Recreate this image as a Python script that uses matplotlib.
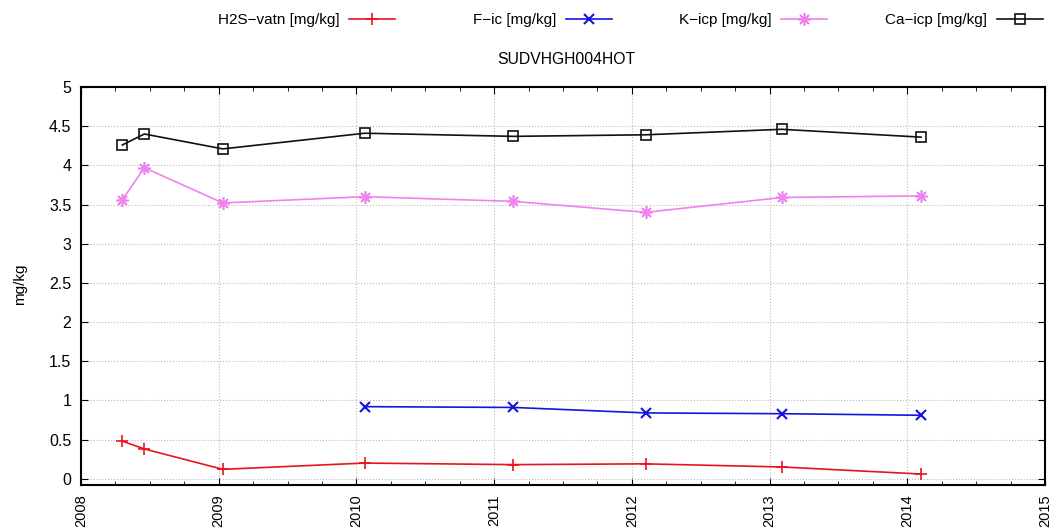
import matplotlib
matplotlib.use("Agg")
import matplotlib.pyplot as plt
from matplotlib.ticker import MultipleLocator

plt.rcParams['font.family'] = ['Liberation Sans', 'DejaVu Sans']

# decimal-year sample dates
dates = [2008.30, 2008.46, 2009.03, 2010.06, 2011.14, 2012.10, 2013.09, 2014.10]
h2s = [0.48, 0.38, 0.12, 0.20, 0.18, 0.19, 0.15, 0.06]
f_dates = [2010.06, 2011.14, 2012.10, 2013.09, 2014.10]
f_ic = [0.92, 0.91, 0.84, 0.83, 0.81]
k_icp = [3.56, 3.97, 3.52, 3.60, 3.54, 3.40, 3.59, 3.61]
ca_icp = [4.26, 4.40, 4.21, 4.41, 4.37, 4.39, 4.46, 4.36]

labels = ['H2S\u2212vatn [mg/kg]', 'F\u2212ic [mg/kg]', 'K\u2212icp [mg/kg]', 'Ca\u2212icp [mg/kg]']
title = 'SUDVHGH004HOT'
ylabel = 'mg/kg'
xticks = [2008, 2009, 2010, 2011, 2012, 2013, 2014, 2015]
yticks = [0, 0.5, 1, 1.5, 2, 2.5, 3, 3.5, 4, 4.5, 5]

fig = plt.figure(figsize=(10.59, 5.29), dpi=100)
ax = fig.add_axes([81/1059, 1-485/529, (1045-81)/1059, (485-87)/529])

l1, = ax.plot(dates, h2s, color='#e8141c', marker='+', ms=9, mew=1.2, lw=1.2)
l2, = ax.plot(f_dates, f_ic, color='#1414e0', marker='x', ms=7, mew=1.5, lw=1.2)
l3, = ax.plot(dates, k_icp, color='#ee82ee', marker=(8, 2, 0), ms=9, mew=1.2, lw=1.2)
l4, = ax.plot(dates, ca_icp, color='#111111', marker='s', ms=7, mfc='none', mew=1.2, lw=1.2)

ax.set_xlim(2008, 2015)
ax.set_ylim(-0.08, 5)
ax.set_xticks(xticks)
ax.set_xticklabels([str(x) for x in xticks], rotation=90, fontsize=10.5)
ax.xaxis.set_minor_locator(MultipleLocator(0.25))
ax.set_yticks(yticks)
ax.set_yticklabels(['%g' % v for v in yticks], fontsize=11.5)
ax.tick_params(which='both', direction='in', top=True, right=True)
ax.tick_params(which='major', length=5)
ax.tick_params(which='minor', length=3)
ax.tick_params(axis='x', pad=7)
ax.tick_params(axis='y', pad=7)
ax.grid(True, which='major', color='#bbbbbb', linestyle=':', linewidth=0.8)
for s in ax.spines.values():
    s.set_linewidth(1.5)

fig.text(20/1059, 1-284/529, ylabel, rotation=90, ha='center', va='center', fontsize=11)
fig.text(566/1059, 1-60/529, title, ha='center', va='center', fontsize=11.3)

ends = [395, 612, 827, 1043]
for h, lab, xe in zip([l1, l2, l3, l4], labels, ends):
    fig.legend([h], [lab], loc='center right', bbox_to_anchor=(xe/1059, 1-20/529),
               frameon=False, markerfirst=False, handlelength=3.0,
               fontsize=11, handletextpad=0.65, borderpad=0, borderaxespad=0)

fig.savefig('out.png', dpi=100)
